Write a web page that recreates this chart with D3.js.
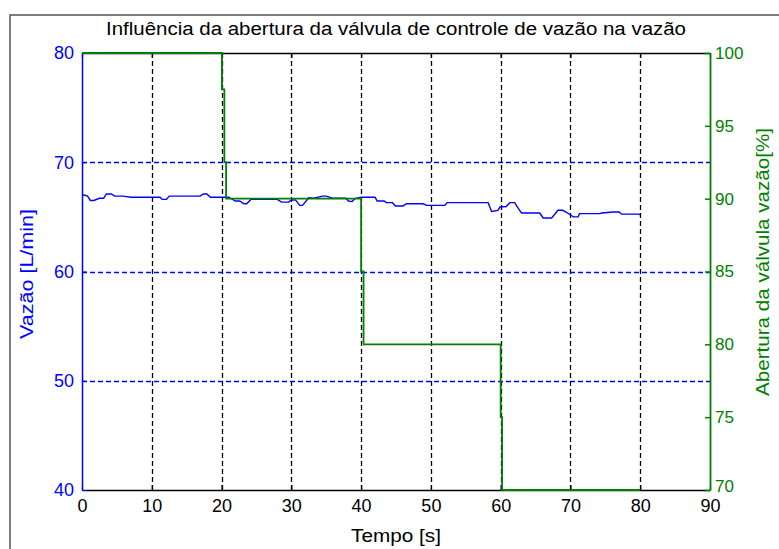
<!DOCTYPE html>
<html>
<head>
<meta charset="utf-8">
<script src="https://cdn.jsdelivr.net/npm/d3@7"></script>
<style>
  body { margin: 0; background: #fff; }
  svg { display: block; font-family: "Liberation Sans", Arial, sans-serif; }
</style>
</head>
<body>
<svg id="chart" width="779" height="549"></svg>
<script>
// flow (left axis) samples
const flowTime = [0, 0.3, 0.8, 1.2, 1.7, 2.5, 3.1, 3.5, 4.2, 4.7, 5.9, 7, 9, 10.5, 11.2, 11.5, 12.1, 12.5, 14, 16.2, 16.9, 17.4, 17.9, 18.4, 20.3,
  21, 22, 22.6, 23.2, 23.6, 24.2, 25, 28, 28.6, 29.6, 30, 30.6, 31.2, 31.6, 32.5, 33.2, 34.5, 35, 36, 37.8, 38.2, 38.7, 39.2, 40,
  42, 42.3, 43.3, 43.6, 44.5, 44.9, 46, 46.5, 48.9, 49.4, 52, 52.3, 58.2, 58.7, 59.6, 59.9, 60.8, 61.3, 62, 62.5, 63, 65.6,
  66.1, 67.3, 67.7, 68.2, 68.9, 69.5, 70.4, 71.1, 71.3, 74.2, 74.5, 76.1, 77, 77.3, 79.7, 80];
const flowValue = [67.0, 67.0, 66.9, 66.5, 66.5, 66.7, 66.7, 67.1, 67.1, 66.9, 66.9, 66.8, 66.8, 66.8, 66.8, 66.6, 66.6, 66.9, 66.9, 66.9, 66.9, 67.1, 67.1, 66.8, 66.8,
  66.8, 66.45, 66.45, 66.2, 66.2, 66.6, 66.6, 66.6, 66.35, 66.35, 66.55, 66.55, 66.05, 66.05, 66.75, 66.7, 66.9, 66.9, 66.7, 66.7, 66.45, 66.4, 66.7, 66.8,
  66.8, 66.45, 66.45, 66.3, 66.3, 66.0, 66.0, 66.2, 66.2, 66.05, 66.05, 66.3, 66.3, 65.5, 65.6, 65.9, 65.95, 66.3, 66.3, 65.8, 65.35, 65.35,
  64.9, 64.9, 65.2, 65.6, 65.6, 65.4, 65.0, 65.0, 65.3, 65.3, 65.35, 65.45, 65.45, 65.25, 65.25, 65.2];

// valve opening (right axis), step changes
const valveTime = [0, 20.05, 20.4, 20.65, 40.0, 40.35, 60.0, 60.2, 80];
const valveValue = [100, 97.5, 92.5, 90, 85, 80, 75, 70, 70];

const xTicks = [0, 10, 20, 30, 40, 50, 60, 70, 80, 90];
const leftTicks = [40, 50, 60, 70, 80];
const rightTicks = [70, 75, 80, 85, 90, 95, 100];

const title = 'Influência da abertura da válvula de controle de vazão na vazão';
const xLabel = 'Tempo [s]';
const leftLabel = 'Vazão [L/min]';
const rightLabel = 'Abertura da válvula vazão[%]';

const blue = '#0000ff';
const green = '#008000';

const plotLeft = 82, plotRight = 710, plotTop = 53, plotBottom = 490;
const svg = d3.select('#chart');

const x = d3.scaleLinear().domain([0, 90]).range([plotLeft, plotRight]);
const yL = d3.scaleLinear().domain([40, 80]).range([plotBottom, plotTop]);
const yR = d3.scaleLinear().domain([70, 100]).range([plotBottom, plotTop]);

// figure frame
svg.append('path')
  .attr('d', 'M10,549V15H779')
  .attr('fill', 'none')
  .attr('stroke', '#555')
  .attr('stroke-width', 1.5);

// grid (snapped to whole pixels so the dashes stay sharp)
svg.append('g').selectAll('line')
  .data(xTicks.filter(d => d > 0 && d < 90))
  .enter().append('line')
  .attr('x1', d => Math.round(x(d)) + 0.5).attr('x2', d => Math.round(x(d)) + 0.5)
  .attr('y1', plotTop).attr('y2', plotBottom)
  .attr('stroke', '#000').attr('stroke-width', 1.3)
  .attr('stroke-dasharray', '5,3');

svg.append('g').selectAll('line')
  .data(leftTicks.filter(d => d > 40 && d < 80))
  .enter().append('line')
  .attr('x1', plotLeft).attr('x2', plotRight)
  .attr('y1', d => Math.round(yL(d)) + 0.5).attr('y2', d => Math.round(yL(d)) + 0.5)
  .attr('stroke', blue).attr('stroke-width', 1.3)
  .attr('stroke-dasharray', '5,3');

// axes
const bottomAxis = svg.append('g')
  .attr('transform', `translate(0,${plotBottom})`)
  .call(d3.axisBottom(x).tickValues(xTicks).tickSizeInner(-5).tickSizeOuter(0).tickPadding(9));
bottomAxis.selectAll('text').attr('font-size', 18).attr('fill', '#000');

const topAxis = svg.append('g')
  .attr('transform', `translate(0,${plotTop})`)
  .call(d3.axisTop(x).tickValues(xTicks).tickSizeInner(-5).tickSizeOuter(0).tickFormat(''));

[bottomAxis, topAxis].forEach(g => {
  g.select('.domain').attr('stroke', '#000').attr('stroke-width', 1.5);
  g.selectAll('.tick line').attr('stroke', '#000').attr('stroke-width', 1.2);
});

const leftAxis = svg.append('g')
  .attr('transform', `translate(${plotLeft},0)`)
  .call(d3.axisLeft(yL).tickValues(leftTicks).tickSizeInner(-5).tickSizeOuter(0).tickPadding(8));
leftAxis.select('.domain').attr('stroke', blue).attr('stroke-width', 1.5);
leftAxis.selectAll('.tick line').attr('stroke', blue);
leftAxis.selectAll('text').attr('font-size', 18).attr('fill', blue);

const rightAxis = svg.append('g')
  .attr('transform', `translate(${plotRight},0)`)
  .call(d3.axisRight(yR).tickValues(rightTicks).tickSizeInner(-5).tickSizeOuter(0).tickPadding(5));
rightAxis.select('.domain').attr('stroke', green).attr('stroke-width', 1.8);
rightAxis.selectAll('.tick line').attr('stroke', green).attr('stroke-width', 1.5);
rightAxis.selectAll('text').attr('font-size', 17).attr('fill', green);
// lift the lowest right label a touch so it clears the "90" below it
rightAxis.selectAll('.tick').filter(d => d === 70).select('text').attr('dy', '0.1em');

// data lines
const flow = flowTime.map((t, i) => ({ t, v: flowValue[i] }));
const valve = valveTime.map((t, i) => ({ t, v: valveValue[i] }));

svg.append('path')
  .datum(flow)
  .attr('fill', 'none')
  .attr('stroke', blue)
  .attr('stroke-width', 1.4)
  .attr('d', d3.line().x(d => x(d.t)).y(d => yL(d.v)));

svg.append('path')
  .datum(valve)
  .attr('fill', 'none')
  .attr('stroke', green)
  .attr('stroke-width', 1.8)
  .attr('d', d3.line().curve(d3.curveStepAfter).x(d => x(d.t)).y(d => yR(d.v)));

// labels
svg.append('text')
  .attr('x', (plotLeft + plotRight) / 2).attr('y', 35)
  .attr('text-anchor', 'middle')
  .attr('font-size', 18)
  .attr('textLength', 580).attr('lengthAdjust', 'spacingAndGlyphs')
  .text(title);

svg.append('text')
  .attr('x', 396).attr('y', 542)
  .attr('text-anchor', 'middle')
  .attr('font-size', 19)
  .attr('textLength', 90).attr('lengthAdjust', 'spacingAndGlyphs')
  .text(xLabel);

svg.append('text')
  .attr('transform', 'translate(33,274) rotate(-90)')
  .attr('text-anchor', 'middle')
  .attr('font-size', 19)
  .attr('textLength', 130).attr('lengthAdjust', 'spacingAndGlyphs')
  .attr('fill', blue)
  .text(leftLabel);

svg.append('text')
  .attr('transform', 'translate(769,262) rotate(-90)')
  .attr('text-anchor', 'middle')
  .attr('font-size', 19)
  .attr('textLength', 268).attr('lengthAdjust', 'spacingAndGlyphs')
  .attr('fill', green)
  .text(rightLabel);
</script>
</body>
</html>
